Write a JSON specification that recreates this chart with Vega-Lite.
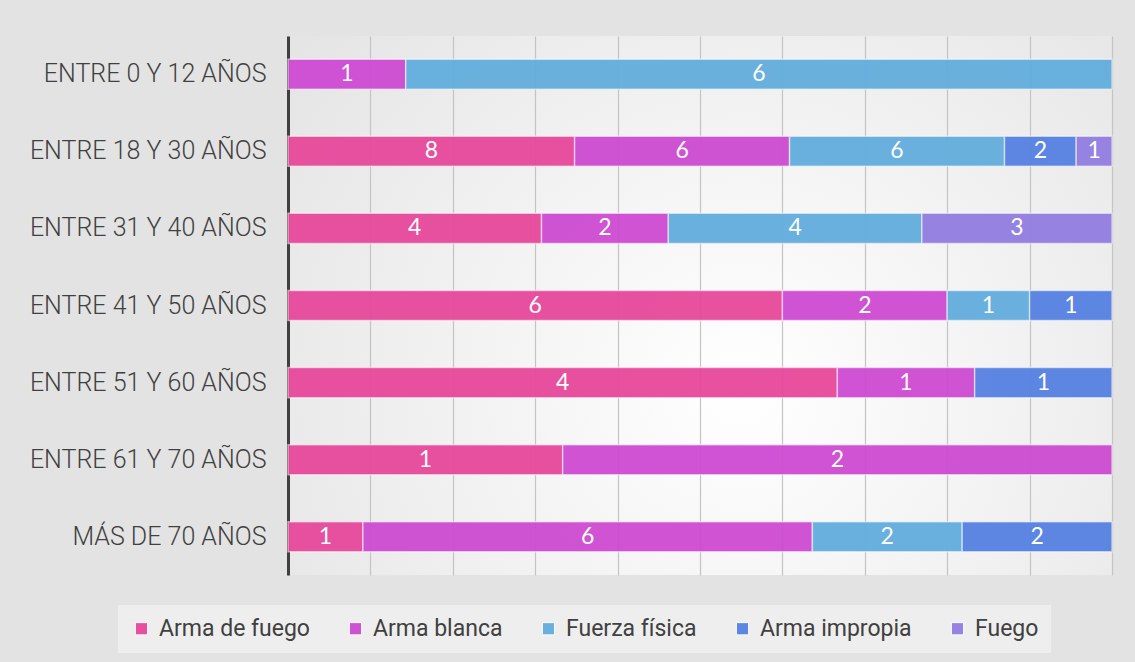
{
  "$schema": "https://vega.github.io/schema/vega-lite/v6.json",
  "autosize": "none",
  "width": 824,
  "height": 539,
  "padding": {"left": 288, "top": 36, "right": 23, "bottom": 87},
  "background": "#e3e3e3",
  "config": {
    "view": {
      "stroke": null,
      "fill": {"gradient": "radial", "x1": 0.55, "y1": 0.6, "r1": 0, "x2": 0.55, "y2": 0.6, "r2": 0.75,
        "stops": [{"offset": 0, "color": "#ffffff"}, {"offset": 1, "color": "#e2e2e2"}]}
    }
  },
  "data": {
    "values": [
      {"edad": "ENTRE 0 Y 12 AÑOS", "tipo": "Arma blanca", "orden": 2, "casos": 1},
      {"edad": "ENTRE 0 Y 12 AÑOS", "tipo": "Fuerza física", "orden": 3, "casos": 6},
      {"edad": "ENTRE 18 Y 30 AÑOS", "tipo": "Arma de fuego", "orden": 1, "casos": 8},
      {"edad": "ENTRE 18 Y 30 AÑOS", "tipo": "Arma blanca", "orden": 2, "casos": 6},
      {"edad": "ENTRE 18 Y 30 AÑOS", "tipo": "Fuerza física", "orden": 3, "casos": 6},
      {"edad": "ENTRE 18 Y 30 AÑOS", "tipo": "Arma impropia", "orden": 4, "casos": 2},
      {"edad": "ENTRE 18 Y 30 AÑOS", "tipo": "Fuego", "orden": 5, "casos": 1},
      {"edad": "ENTRE 31 Y 40 AÑOS", "tipo": "Arma de fuego", "orden": 1, "casos": 4},
      {"edad": "ENTRE 31 Y 40 AÑOS", "tipo": "Arma blanca", "orden": 2, "casos": 2},
      {"edad": "ENTRE 31 Y 40 AÑOS", "tipo": "Fuerza física", "orden": 3, "casos": 4},
      {"edad": "ENTRE 31 Y 40 AÑOS", "tipo": "Fuego", "orden": 5, "casos": 3},
      {"edad": "ENTRE 41 Y 50 AÑOS", "tipo": "Arma de fuego", "orden": 1, "casos": 6},
      {"edad": "ENTRE 41 Y 50 AÑOS", "tipo": "Arma blanca", "orden": 2, "casos": 2},
      {"edad": "ENTRE 41 Y 50 AÑOS", "tipo": "Fuerza física", "orden": 3, "casos": 1},
      {"edad": "ENTRE 41 Y 50 AÑOS", "tipo": "Arma impropia", "orden": 4, "casos": 1},
      {"edad": "ENTRE 51 Y 60 AÑOS", "tipo": "Arma de fuego", "orden": 1, "casos": 4},
      {"edad": "ENTRE 51 Y 60 AÑOS", "tipo": "Arma blanca", "orden": 2, "casos": 1},
      {"edad": "ENTRE 51 Y 60 AÑOS", "tipo": "Arma impropia", "orden": 4, "casos": 1},
      {"edad": "ENTRE 61 Y 70 AÑOS", "tipo": "Arma de fuego", "orden": 1, "casos": 1},
      {"edad": "ENTRE 61 Y 70 AÑOS", "tipo": "Arma blanca", "orden": 2, "casos": 2},
      {"edad": "MÁS DE 70 AÑOS", "tipo": "Arma de fuego", "orden": 1, "casos": 1},
      {"edad": "MÁS DE 70 AÑOS", "tipo": "Arma blanca", "orden": 2, "casos": 6},
      {"edad": "MÁS DE 70 AÑOS", "tipo": "Fuerza física", "orden": 3, "casos": 2},
      {"edad": "MÁS DE 70 AÑOS", "tipo": "Arma impropia", "orden": 4, "casos": 2}
    ]
  },
  "encoding": {
    "y": {
      "field": "edad", "type": "nominal", "sort": null, "title": null,
      "scale": {"paddingInner": 0.61, "paddingOuter": 0.3},
      "axis": {"labelFont": "Roboto", "labelFontSize": 25, "labelFontWeight": 300, "labelLimit": 400, "labelColor": "#404040", "labelPadding": 22,
        "ticks": false, "domainColor": "#404040", "domainWidth": 3, "grid": false}
    },
    "x": {
      "field": "casos", "type": "quantitative", "stack": "normalize", "title": null,
      "scale": {"domain": [0, 1], "nice": false},
      "axis": {"labels": false, "ticks": false, "domain": false, "tickCount": 10, "grid": true,
        "gridColor": "#c4c4c4", "gridWidth": 1.2}
    },
    "order": {"field": "orden", "type": "quantitative", "sort": "ascending"}
  },
  "layer": [
    {
      "mark": {"type": "bar", "stroke": "#ffffff", "strokeOpacity": 0.55, "strokeWidth": 1.5, "opacity": 0.95},
      "encoding": {
        "color": {
          "field": "tipo", "type": "nominal",
          "sort": ["Arma de fuego", "Arma blanca", "Fuerza física", "Arma impropia", "Fuego"],
          "scale": {
            "domain": ["Arma de fuego", "Arma blanca", "Fuerza física", "Arma impropia", "Fuego"],
            "range": ["#e6489a", "#cd4bd2", "#62addd", "#5681e2", "#927de0"]
          },
          "legend": {
            "title": null, "orient": "none", "direction": "horizontal",
            "legendX": -170, "legendY": 569,
            "fillColor": "rgba(255,255,255,0.4)", "padding": 12,
            "labelFont": "Roboto", "labelFontSize": 23, "labelColor": "#404040", "labelLimit": 400,
            "symbolType": "square", "symbolSize": 150, "symbolStrokeColor": "#ffffff", "symbolStrokeWidth": 1,
            "labelOffset": 6, "columnPadding": 34
          }
        }
      }
    },
    {
      "mark": {"type": "text", "font": "Lato", "fontSize": 23, "color": "#ffffff", "baseline": "middle", "align": "center"},
      "encoding": {
        "x": {"field": "casos", "type": "quantitative", "stack": "normalize", "bandPosition": 0.5},
        "detail": {"field": "tipo", "type": "nominal"},
        "text": {"field": "casos", "type": "quantitative"}
      }
    }
  ]
}
